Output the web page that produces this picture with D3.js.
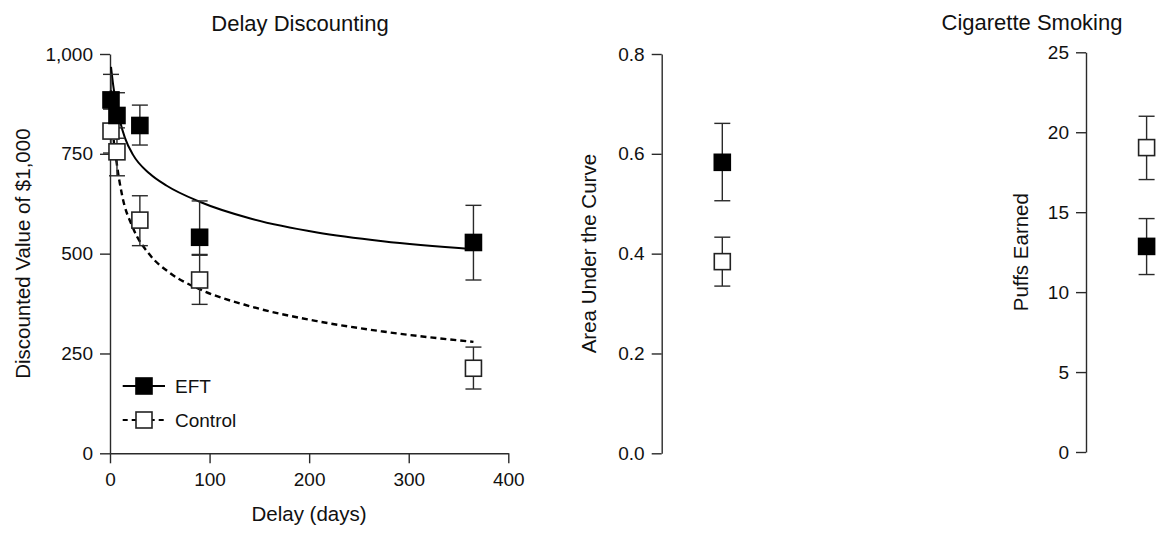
<!DOCTYPE html>
<html>
<head>
<meta charset="utf-8">
<script src="https://cdn.jsdelivr.net/npm/d3@7"></script>
<style>
  html, body { margin: 0; padding: 0; background: #fff; }
  svg { display: block; }
  text { font-family: "Liberation Sans", Arial, Helvetica, sans-serif; fill: #111; }
</style>
</head>
<body>
<svg id="chart" width="1168" height="535"></svg>
<script>
// ---------------- data ----------------
const seriesNames = ["EFT", "Control"];

// Delay discounting: indifference points (mean with error bars)
const delays = [1, 7, 30, 90, 365];
const eftMean  = [885, 846, 821, 541, 528];
const eftUpper = [949, 903, 872, 632, 621];
const eftLower = [821, 789, 772, 498, 434];
const ctlMean  = [807, 755, 584, 434, 213];
const ctlUpper = [862, 815, 645, 496, 266];
const ctlLower = [752, 695, 520, 373, 161];

// Fitted discounting curves
const eftCurveDays   = [1, 3, 7, 10, 15, 23, 40, 57, 90, 141, 208, 274, 365];
const eftCurveValues = [968, 926, 866, 832, 790, 748, 700, 670, 630, 588, 553, 531, 511];
const ctlCurveDays   = [1, 3, 7, 12, 23, 40, 60, 90, 141, 208, 274, 365];
const ctlCurveValues = [910, 810, 722, 648, 565, 497, 452, 411, 368, 331, 305, 279];

// Area under the curve
const aucMean  = [0.583, 0.384];
const aucUpper = [0.661, 0.433];
const aucLower = [0.506, 0.335];

// Cigarette smoking: puffs earned
const puffMean  = [12.86, 19.04];
const puffUpper = [14.6, 21.0];
const puffLower = [11.1, 17.04];

// Tick values
const delayTicks = [0, 100, 200, 300, 400];
const valueTicks = [0, 250, 500, 750, 1000];
const aucTicks   = [0, 0.2, 0.4, 0.6, 0.8];
const puffTicks  = [0, 5, 10, 15, 20, 25];

// Titles / labels
const titleDelay = "Delay Discounting";
const titleSmoke = "Cigarette Smoking";
const xLabelDelay = "Delay (days)";
const yLabelDelay = "Discounted Value of $1,000";
const yLabelAuc = "Area Under the Curve";
const yLabelPuffs = "Puffs Earned";

// ---------------- styles ----------------
const AXIS_COLOR = "#2a2a2a";
const ERR_COLOR = "#2a2a2a";
const SQ = 16;          // marker size
const CAP = 8;          // error cap half-width
const TICK_FONT = 19;
const LABEL_FONT = 20.5;
const TITLE_FONT = 22;
const FONT = '"Liberation Sans", Arial, Helvetica, sans-serif';

const svg = d3.select("#chart");
svg.append("rect").attr("width", 1168).attr("height", 535).attr("fill", "#fff");

function styleAxis(g) {
  g.selectAll("path.domain").attr("stroke", AXIS_COLOR).attr("stroke-width", 1.4);
  g.selectAll(".tick line").attr("stroke", AXIS_COLOR).attr("stroke-width", 1.4);
  g.selectAll(".tick text")
    .style("font-family", FONT)
    .style("font-size", TICK_FONT + "px")
    .attr("fill", "#111");
}

function drawMarker(g, x, y, filled) {
  g.append("rect")
    .attr("x", x - SQ / 2).attr("y", y - SQ / 2)
    .attr("width", SQ).attr("height", SQ)
    .attr("fill", filled ? "#000" : "#fff")
    .attr("stroke", filled ? "#000" : "#222")
    .attr("stroke-width", 1.6);
}

function drawErr(g, x, yTop, yBot) {
  g.append("line").attr("x1", x).attr("x2", x).attr("y1", yTop).attr("y2", yBot)
    .attr("stroke", ERR_COLOR).attr("stroke-width", 1.4);
  [yTop, yBot].forEach(y => {
    g.append("line").attr("x1", x - CAP).attr("x2", x + CAP).attr("y1", y).attr("y2", y)
      .attr("stroke", ERR_COLOR).attr("stroke-width", 1.4);
  });
}

function rotatedLabel(text, x, y) {
  svg.append("text")
    .attr("transform", `translate(${x},${y}) rotate(-90)`)
    .attr("text-anchor", "middle")
    .style("font-size", LABEL_FONT + "px")
    .text(text);
}

// ---------------- Panel 1: Delay discounting ----------------
const x1 = d3.scaleLinear().domain([0, 400]).range([110, 508.3]);
const y1 = d3.scaleLinear().domain([0, 1000]).range([453.3, 54]);

const gx1 = svg.append("g").attr("transform", `translate(0,${y1(0)})`)
  .call(d3.axisBottom(x1).tickValues(delayTicks).tickSize(10).tickSizeOuter(0).tickPadding(9).tickFormat(d3.format("d")));
styleAxis(gx1);
const gy1 = svg.append("g").attr("transform", `translate(${x1(0)},0)`)
  .call(d3.axisLeft(y1).tickValues(valueTicks).tickSize(10).tickSizeOuter(0).tickPadding(7).tickFormat(d3.format(",")));
styleAxis(gy1);

const line1 = d3.line().x(d => x1(d[0])).y(d => y1(d[1])).curve(d3.curveMonotoneX);
const p1 = svg.append("g");
p1.append("path")
  .datum(ctlCurveDays.map((d, i) => [d, ctlCurveValues[i]]))
  .attr("d", line1).attr("fill", "none").attr("stroke", "#000")
  .attr("stroke-width", 2.4).attr("stroke-dasharray", "6,4");
p1.append("path")
  .datum(eftCurveDays.map((d, i) => [d, eftCurveValues[i]]))
  .attr("d", line1).attr("fill", "none").attr("stroke", "#000")
  .attr("stroke-width", 2);

delays.forEach((d, i) => drawErr(p1, x1(d), y1(ctlUpper[i]), y1(ctlLower[i])));
delays.forEach((d, i) => drawErr(p1, x1(d), y1(eftUpper[i]), y1(eftLower[i])));
delays.forEach((d, i) => drawMarker(p1, x1(d), y1(ctlMean[i]), false));
delays.forEach((d, i) => drawMarker(p1, x1(d), y1(eftMean[i]), true));

svg.append("text").attr("x", 300).attr("y", 31).attr("text-anchor", "middle")
  .style("font-size", TITLE_FONT + "px").text(titleDelay);
svg.append("text").attr("x", 309).attr("y", 521).attr("text-anchor", "middle")
  .style("font-size", LABEL_FONT + "px").text(xLabelDelay);
rotatedLabel(yLabelDelay, 30, (y1.range()[0] + y1.range()[1]) / 2);

// Legend
const legend = svg.append("g");
const legRows = [386, 420];
seriesNames.forEach((name, i) => {
  const y = legRows[i];
  legend.append("line").attr("x1", 122.7).attr("x2", 165).attr("y1", y).attr("y2", y)
    .attr("stroke", "#000").attr("stroke-width", i === 0 ? 2 : 2.2)
    .attr("stroke-dasharray", i === 0 ? null : "5,4");
  drawMarker(legend, 144, y, i === 0);
  legend.append("text").attr("x", 175).attr("y", y).attr("dy", "0.36em")
    .style("font-size", TICK_FONT + "px").text(name);
});

// ---------------- Panel 2: Area under the curve ----------------
const ax2 = 661.7;
const x2 = d3.scaleBand().domain(["AUC"]).range([ax2, ax2 + 121.2]);
const y2 = d3.scaleLinear().domain([0, 0.8]).range([453.3, 54]);
const gy2 = svg.append("g").attr("transform", `translate(${ax2},0)`)
  .call(d3.axisLeft(y2).tickValues(aucTicks).tickSize(10).tickSizeOuter(0).tickPadding(7).tickFormat(d3.format(".1f")));
styleAxis(gy2);
const p2 = svg.append("g");
const cx2 = x2("AUC") + x2.bandwidth() / 2;
seriesNames.forEach((s, i) => drawErr(p2, cx2, y2(aucUpper[i]), y2(aucLower[i])));
seriesNames.forEach((s, i) => drawMarker(p2, cx2, y2(aucMean[i]), i === 0));
rotatedLabel(yLabelAuc, 596, (y2.range()[0] + y2.range()[1]) / 2);

// ---------------- Panel 3: Cigarette smoking ----------------
const ax3 = 1086;
const x3 = d3.scaleBand().domain(["Puffs"]).range([ax3, ax3 + 121.2]);
const y3 = d3.scaleLinear().domain([0, 25]).range([452, 52.3]);
const gy3 = svg.append("g").attr("transform", `translate(${ax3},0)`)
  .call(d3.axisLeft(y3).tickValues(puffTicks).tickSize(10).tickSizeOuter(0).tickPadding(7).tickFormat(d3.format("d")));
styleAxis(gy3);
const p3 = svg.append("g");
const cx3 = x3("Puffs") + x3.bandwidth() / 2;
seriesNames.forEach((s, i) => drawErr(p3, cx3, y3(puffUpper[i]), y3(puffLower[i])));
seriesNames.forEach((s, i) => drawMarker(p3, cx3, y3(puffMean[i]), i === 0));
rotatedLabel(yLabelPuffs, 1028, (y3.range()[0] + y3.range()[1]) / 2);

svg.append("text").attr("x", 1032).attr("y", 30).attr("text-anchor", "middle")
  .style("font-size", TITLE_FONT + "px").text(titleSmoke);
</script>
</body>
</html>
